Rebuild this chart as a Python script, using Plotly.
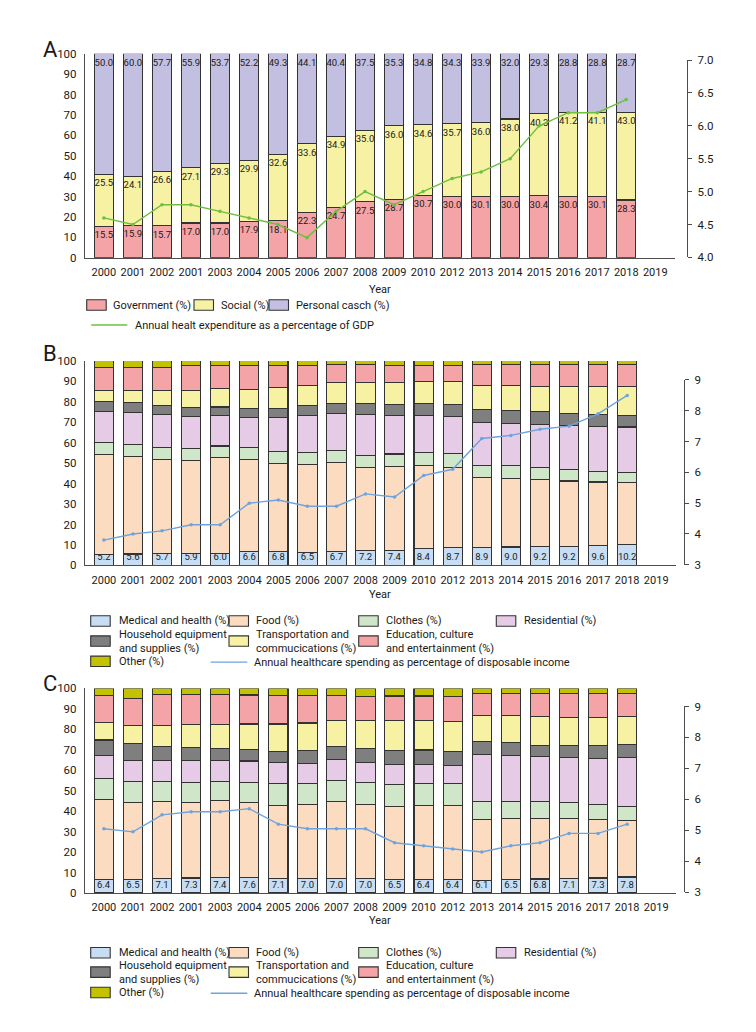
import plotly.graph_objects as go

W, H = 756, 1032
FONT = "Roboto, Liberation Sans, sans-serif"

years = ["2000", "2001", "2002", "2001", "2003", "2004", "2005", "2006", "2007", "2008",
         "2009", "2010", "2012", "2013", "2014", "2015", "2016", "2017", "2018", "2019"]

# ---------------- Panel A ----------------
gov = [15.5, 15.9, 15.7, 17.0, 17.0, 17.9, 18.1, 22.3, 24.7, 27.5,
       28.7, 30.7, 30.0, 30.1, 30.0, 30.4, 30.0, 30.1, 28.3]
social = [25.5, 24.1, 26.6, 27.1, 29.3, 29.9, 32.6, 33.6, 34.9, 35.0,
          36.0, 34.6, 35.7, 36.0, 38.0, 40.3, 41.2, 41.1, 43.0]
personal = [50.0, 60.0, 57.7, 55.9, 53.7, 52.2, 49.3, 44.1, 40.4, 37.5,
            35.3, 34.8, 34.3, 33.9, 32.0, 29.3, 28.8, 28.8, 28.7]
gdp_share = [4.6, 4.5, 4.8, 4.8, 4.7, 4.6, 4.5, 4.3, 4.7, 5.0,
             4.8, 5.0, 5.2, 5.3, 5.5, 6.0, 6.2, 6.2, 6.4]

# ---------------- Panel B ----------------
b_medical = [5.2, 5.6, 5.7, 5.9, 6.0, 6.6, 6.8, 6.5, 6.7, 7.2,
             7.4, 8.4, 8.7, 8.9, 9.0, 9.2, 9.2, 9.6, 10.2]
b_food = [49.1, 47.6, 46.1, 45.4, 46.7, 45.3, 42.9, 43.0, 43.6, 40.9,
          41.2, 40.5, 39.4, 34.0, 33.4, 32.9, 32.1, 31.2, 30.2]
b_clothes = [5.7, 5.8, 5.9, 5.8, 5.7, 5.8, 5.9, 5.8, 5.8, 5.8,
             5.9, 6.4, 6.6, 6.0, 6.3, 6.0, 5.8, 5.3, 5.1]
b_residential = [15.4, 15.8, 16.1, 15.7, 15.1, 14.6, 16.6, 17.9, 18.3, 20.1,
                 19.0, 18.2, 18.3, 21.2, 20.9, 20.9, 21.2, 21.7, 22.2]
b_household = [4.8, 4.8, 4.5, 4.5, 4.0, 4.4, 4.6, 4.8, 5.0, 5.3,
               5.3, 5.9, 5.9, 6.3, 6.3, 6.1, 5.8, 5.8, 5.8]
b_transport = [5.3, 5.9, 7.1, 8.2, 9.0, 9.5, 10.2, 10.1, 10.0, 10.1,
               10.6, 10.6, 11.1, 11.5, 11.9, 12.5, 13.5, 13.9, 14.0]
b_education = [11.3, 11.1, 11.2, 12.1, 11.2, 11.7, 10.7, 9.6, 8.7, 8.7,
               8.5, 7.9, 7.7, 10.3, 10.4, 10.6, 10.6, 10.7, 10.7]
b_other = [3.2, 3.4, 3.4, 2.4, 2.3, 2.1, 2.3, 2.3, 1.9, 1.9,
           2.1, 2.1, 2.3, 1.8, 1.8, 1.8, 1.8, 1.8, 1.8]
b_income = [3.8, 4.0, 4.1, 4.3, 4.3, 5.0, 5.1, 4.9, 4.9, 5.3,
            5.2, 5.9, 6.1, 7.1, 7.2, 7.4, 7.5, 7.9, 8.5]

# ---------------- Panel C ----------------
c_medical = [6.4, 6.5, 7.1, 7.3, 7.4, 7.6, 7.1, 7.0, 7.0, 7.0,
             6.5, 6.4, 6.4, 6.1, 6.5, 6.8, 7.1, 7.3, 7.8]
c_food = [39.1, 37.9, 37.6, 37.1, 37.6, 36.5, 35.5, 36.1, 37.7, 36.4,
          35.6, 36.4, 36.2, 29.9, 30.0, 29.7, 29.4, 28.7, 27.7]
c_clothes = [10.3, 10.1, 9.8, 9.8, 9.7, 10.1, 10.8, 10.6, 10.3, 10.6,
             10.8, 10.9, 10.8, 8.7, 8.2, 8.0, 7.6, 7.2, 6.9]
c_residential = [11.2, 10.3, 10.3, 10.6, 10.1, 10.3, 10.3, 9.5, 10.4, 9.8,
                 9.8, 9.2, 9.0, 23.1, 22.7, 22.2, 22.1, 22.7, 24.0]
c_household = [7.8, 8.4, 6.7, 6.3, 5.8, 5.8, 5.6, 6.4, 6.1, 6.8,
               6.9, 7.0, 6.7, 6.3, 6.2, 5.6, 6.1, 6.3, 6.3]
c_transport = [8.6, 8.5, 10.5, 11.2, 11.7, 12.3, 13.3, 13.5, 12.9, 13.5,
               14.6, 14.2, 14.7, 12.6, 13.1, 14.0, 13.7, 13.7, 13.5]
c_education = [13.2, 13.2, 14.9, 14.6, 14.6, 14.2, 13.9, 13.4, 12.1, 12.0,
               12.1, 12.2, 12.3, 10.9, 10.9, 11.3, 11.7, 11.8, 11.5]
c_other = [3.4, 5.1, 3.1, 3.1, 3.1, 3.2, 3.5, 3.5, 3.5, 3.9,
           3.7, 3.7, 3.9, 2.4, 2.4, 2.4, 2.3, 2.3, 2.3]
c_income = [5.05, 4.95, 5.5, 5.6, 5.6, 5.7, 5.2, 5.05, 5.05, 5.05,
            4.6, 4.5, 4.4, 4.3, 4.5, 4.6, 4.9, 4.9, 5.2]

# ---------------- styling ----------------
COL_GOV = "#f4a3a6"
COL_SOC = "#f7f1a3"
COL_PER = "#c2bfe0"
COL_MED = "#c6ddf3"
COL_FOOD = "#fcdcc0"
COL_CLO = "#cfe6c8"
COL_RES = "#e6cbe6"
COL_HOU = "#7f7f7f"
COL_TRA = "#f7f2a3"
COL_EDU = "#f4a3a6"
COL_OTH = "#c3c200"
COL_GREEN = "#6cbf3f"
COL_BLUE = "#6fa3dd"
EDGE = "#333333"
AX = "#4d4d4d"
TXT = "#1a1a1a"


def px(x):
    return x / W


def py(y):
    return 1 - y / H


fig = go.Figure()
xs = list(range(len(years) - 1))
ticks_x = list(range(len(years)))


def fmt(vals):
    return [f"{v:.1f}" for v in vals]


def add_bar(xa, ya, vals, color, name, text=None, anchor="end"):
    fig.add_trace(go.Bar(
        x=xs, y=vals, xaxis=xa, yaxis=ya, name=name, showlegend=False,
        marker=dict(color=color, line=dict(color=EDGE, width=1.1)),
        text=text, textposition="inside" if text else "none",
        insidetextanchor=anchor, constraintext="none",
        textfont=dict(family=FONT, size=9.5, color=TXT),
        textangle=0, hoverinfo="skip",
    ))


def add_line(xa, ya, vals, color, name):
    fig.add_trace(go.Scatter(
        x=xs, y=vals, xaxis=xa, yaxis=ya, name=name, showlegend=False,
        mode="lines+markers", line=dict(color=color, width=1.4),
        marker=dict(size=3.5, color=color), hoverinfo="skip",
    ))


# Panel A traces
add_bar("x", "y", gov, COL_GOV, "Government (%)", fmt(gov))
add_bar("x", "y", social, COL_SOC, "Social (%)", fmt(social))
personal_height = [100 - g - s for g, s in zip(gov, social)]
add_bar("x", "y", personal_height, COL_PER, "Personal casch (%)", fmt(personal))
add_line("x", "y2", gdp_share, COL_GREEN, "Annual healt expenditure as a percentage of GDP")

# Panel B traces
for vals, col, nm, lab in [
    (b_medical, COL_MED, "Medical and health (%)", fmt(b_medical)),
    (b_food, COL_FOOD, "Food (%)", None),
    (b_clothes, COL_CLO, "Clothes (%)", None),
    (b_residential, COL_RES, "Residential (%)", None),
    (b_household, COL_HOU, "Household equipment and supplies (%)", None),
    (b_transport, COL_TRA, "Transportation and commucications (%)", None),
    (b_education, COL_EDU, "Education, culture and entertainment (%)", None),
    (b_other, COL_OTH, "Other (%)", None),
]:
    add_bar("x2", "y3", vals, col, nm, lab, anchor="start")
add_line("x2", "y4", b_income, COL_BLUE, "Annual healthcare spending as percentage of disposable income")

# Panel C traces
for vals, col, nm, lab in [
    (c_medical, COL_MED, "Medical and health (%)", fmt(c_medical)),
    (c_food, COL_FOOD, "Food (%)", None),
    (c_clothes, COL_CLO, "Clothes (%)", None),
    (c_residential, COL_RES, "Residential (%)", None),
    (c_household, COL_HOU, "Household equipment and supplies (%)", None),
    (c_transport, COL_TRA, "Transportation and commucications (%)", None),
    (c_education, COL_EDU, "Education, culture and entertainment (%)", None),
    (c_other, COL_OTH, "Other (%)", None),
]:
    add_bar("x3", "y5", vals, col, nm, lab, anchor="start")
add_line("x3", "y6", c_income, COL_BLUE, "Annual healthcare spending as percentage of disposable income")

# ---------------- axes ----------------
XR = [-0.65, 19.68]
panels = [
    ("xaxis", "yaxis", "yaxis2", "y", 77, 667, 246.0, 39.3, 245.7, 45.7, 679, [4, 7], 0.5, ".1f"),
    ("xaxis2", "yaxis3", "yaxis4", "y3", 77, 668, 558.0, 350.7, 557.3, 370.0, 676, [3, 9], 1, "d"),
    ("xaxis3", "yaxis5", "yaxis6", "y5", 77, 668, 890.0, 682.7, 889.3, 701.0, 676, [3, 9], 1, "d"),
]
tickfont = dict(family=FONT, size=11.5, color=TXT)
layout_axes = {}
for xa, ya, y2a, yanchor, x0, x1, yb, yt, y2b, y2t, y2p, y2r, dt, tf in panels:
    layout_axes[xa] = dict(
        domain=[px(x0), px(x1)], range=XR, anchor=yanchor,
        tickmode="array", tickvals=ticks_x, ticktext=years, tickangle=0,
        showgrid=False, zeroline=False, showline=True, linecolor=AX, linewidth=1.3,
        ticks="", tickfont=dict(family=FONT, size=11, color=TXT),
        ticklabelstandoff=4,
    )
    layout_axes[ya] = dict(
        domain=[py(yb), py(yt)], range=[0, 100], dtick=10, anchor=xa.replace("axis", ""),
        showgrid=False, zeroline=False, showline=True, linecolor=AX, linewidth=1.3,
        ticks="", tickfont=tickfont, ticklabelstandoff=5,
    )
    layout_axes[y2a] = dict(
        domain=[py(y2b), py(y2t)], range=y2r, dtick=dt, tickformat=tf,
        anchor="free", position=px(y2p), side="right",
        showgrid=False, zeroline=False, showline=True, linecolor=AX, linewidth=1.3,
        ticks="outside", ticklen=4, tickcolor=AX, tickwidth=1.2,
        tickfont=tickfont, ticklabelstandoff=3,
    )

fig.update_layout(
    width=W, height=H, margin=dict(l=0, r=0, t=0, b=0),
    paper_bgcolor="white", plot_bgcolor="rgba(0,0,0,0)",
    barmode="stack", bargap=0.335, showlegend=False,
    font=dict(family=FONT, size=11, color=TXT),
    **layout_axes,
)

# ---------------- annotations: panel letters, axis titles ----------------
ann = []
for letter, yy in [("A", 35), ("B", 343), ("C", 678)]:
    ann.append(dict(x=px(42), y=py(yy), xref="paper", yref="paper", text=letter,
                    showarrow=False, xanchor="center", yanchor="middle",
                    font=dict(family=FONT, size=22, color=TXT)))
for yy in [278, 587, 918]:
    ann.append(dict(x=px(372), y=py(yy), xref="paper", yref="paper", text="Year",
                    showarrow=False, xanchor="center", yanchor="middle",
                    font=dict(family=FONT, size=11, color=TXT)))

shapes = []
LEG_FONT = dict(family=FONT, size=11, color=TXT)


def legend_box(x0, yc, color, label, tx):
    shapes.append(dict(type="rect", xref="paper", yref="paper",
                       x0=px(x0), x1=px(x0 + 19.5), y0=py(yc - 5.3), y1=py(yc + 5.3),
                       fillcolor=color, line=dict(color=EDGE, width=1.1)))
    ann.append(dict(x=px(tx), y=py(yc), xref="paper", yref="paper", text=label,
                    showarrow=False, xanchor="left", yanchor="middle", align="left",
                    font=LEG_FONT))


def legend_line(x0, x1, yc, color, label, tx):
    shapes.append(dict(type="line", xref="paper", yref="paper",
                       x0=px(x0), x1=px(x1), y0=py(yc), y1=py(yc),
                       line=dict(color=color, width=1.4)))
    ann.append(dict(x=px(tx), y=py(yc), xref="paper", yref="paper", text=label,
                    showarrow=False, xanchor="left", yanchor="middle", align="left",
                    font=LEG_FONT))


# Legend A
legend_box(78.7, 294, COL_GOV, "Government (%)", 102.7)
legend_box(186, 294, COL_SOC, "Social (%)", 210.7)
legend_box(261, 294, COL_PER, "Personal casch (%)", 285.7)
legend_line(83.3, 119.3, 314.3, COL_GREEN, "Annual healt expenditure as a percentage of GDP", 125)

# Legends B and C
for r1, r2, r3 in [(614.3, 634.7, 655.2), (950.7, 970.3, 990.9)]:
    legend_box(82.7, r1, COL_MED, "Medical and health (%)", 108.7)
    legend_box(221, r1, COL_FOOD, "Food (%)", 245.7)
    legend_box(350.7, r1, COL_CLO, "Clothes (%)", 376)
    legend_box(488.3, r1, COL_RES, "Residential (%)", 514)
    legend_box(82.7, r2, COL_HOU, "Household equipment<br>and supplies (%)", 108.7)
    legend_box(221, r2, COL_TRA, "Transportation and<br>commucications (%)", 245.7)
    legend_box(350.7, r2, COL_EDU, "Education, culture<br>and entertainment (%)", 376)
    legend_box(82.7, r3, COL_OTH, "Other (%)", 108.7)
    legend_line(202.7, 239.3, r3 + 0.8, COL_BLUE,
                "Annual healthcare spending as percentage of disposable income", 244)

fig.update_layout(annotations=ann, shapes=shapes)
fig.write_html("out.html")
